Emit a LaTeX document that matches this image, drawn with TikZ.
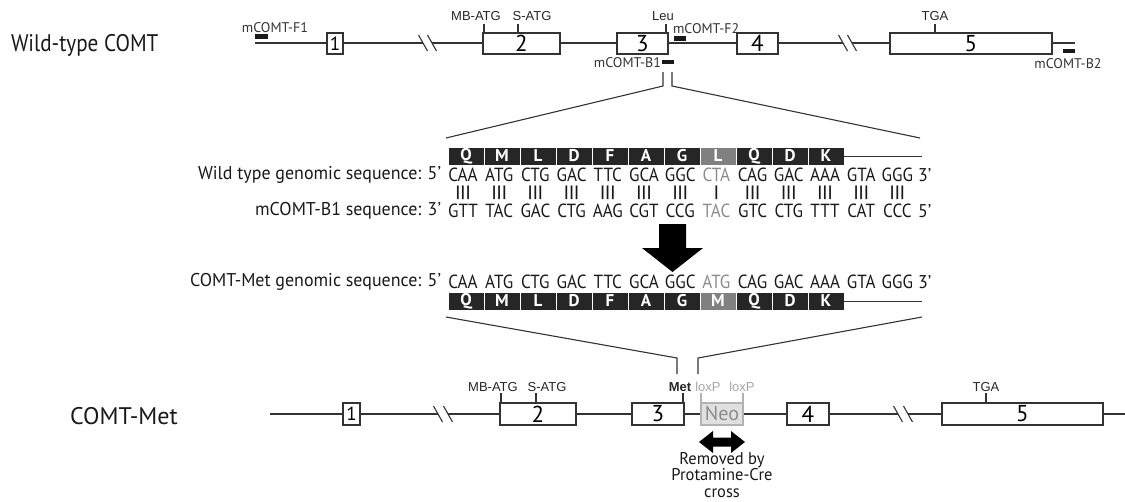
\documentclass[tikz,border=0pt]{standalone}
\usepackage{fontspec}
\setmainfont{PT Sans}
\newfontfamily\seqf[FakeStretch=0.97]{PT Sans}
\newfontfamily\codf[FakeStretch=0.9]{PT Sans}
\newfontfamily\titf[FakeStretch=0.88]{PT Sans}
\newfontfamily\labf{Liberation Sans}
\begin{document}
\begin{tikzpicture}[x=1pt,y=-1pt,
  every node/.style={inner sep=0pt, outer sep=0pt},
  gl/.style={draw=black!80, line width=1.2pt},
  exon/.style={draw=black!80, line width=1.2pt, fill=white, font=\fontsize{23}{23}\selectfont},
  primer/.style={fill=black!90, minimum width=12pt, minimum height=4.5pt},
  lab/.style={font=\labf\fontsize{13}{13}\selectfont, text=black!85},
  plab/.style={font=\fontsize{14}{14}\selectfont, text=black!80},
  tick/.style={draw=black!80, line width=1.2pt},
  seq/.style={font=\seqf\fontsize{18.5}{18.5}\selectfont, text=black!90},
  cod/.style={font=\codf\fontsize{19}{19}\selectfont, text=black!90},
  pipe/.style={font=\seqf\bfseries\fontsize{16.5}{16.5}\selectfont, text=black!90},
  aa/.style={fill=black!85, draw=white, line width=0.7pt, minimum width=36pt, minimum height=18pt, text=white, font=\bfseries\fontsize{17}{17}\selectfont},
  aag/.style={aa, fill=black!50},
  title/.style={font=\fontsize{24}{24}\selectfont, text=black!90, anchor=west},
  exp/.style={draw=black!80, line width=1.1pt},
  brk/.style={draw=black!80, line width=1.1pt}
]
\useasboundingbox (0,0) rectangle (1125,501);

% ---------------- Wild-type gene ----------------
\node[title, font=\titf\fontsize{24}{24}\selectfont] (wt) at (11,45) {Wild-type COMT};
\coordinate (t0) at (255,43);
\coordinate (tb1a) at (423,43);
\coordinate (tb1b) at (432,43);
\coordinate (tb2a) at (843,43);
\coordinate (tb2b) at (852,43);
\coordinate (tEnd) at (1075,43);
\draw[gl] (t0) -- (tb1a);
\draw[gl] (tb1b) -- (tb2a);
\draw[gl] (tb2b) -- (tEnd);
\foreach \c in {tb1a,tb1b,tb2a,tb2b}
  \draw[brk] ([shift={(-4.5,-8)}]\c) -- ([shift={(4.5,8)}]\c);

\node[exon, minimum width=16pt, minimum height=21pt, font=\fontsize{19}{19}\selectfont] (e1) at (335,43.5) {1};
\node[exon, minimum width=77pt, minimum height=21pt] (e2) at (521.5,43.5) {2};
\node[exon, minimum width=51pt, minimum height=21pt] (e3) at (642.5,43.5) {3};
\node[exon, minimum width=41pt, minimum height=21pt] (e4) at (757.5,43.5) {4};
\node[exon, minimum width=162pt, minimum height=21pt] (e5) at (971,43.5) {5};

% ticks and labels
\coordinate (mbT) at (484,33);
\coordinate (sT) at (518,33);
\coordinate (leuT) at (666,33);
\coordinate (tgaT) at (935,33);
\foreach \c in {mbT,sT,leuT,tgaT} \draw[tick] (\c) -- ++(0,-9);
\node[lab] (mbL) at (476,16) {MB-ATG};
\node[lab] (sL) at (532,16) {S-ATG};
\node[lab] (leuL) at (663,16) {Leu};
\node[lab] (tgaL) at (935,16) {TGA};

% primers
\node[primer, minimum width=13pt] (F1) at (261.5,36.5) {};
\node[plab] (F1L) at (275,28) {mCOMT-F1};
\node[primer, minimum height=5pt] (F2) at (679.5,38.5) {};
\node[plab, anchor=west] (F2L) at (673,29) {mCOMT-F2};
\node[primer] (B1) at (667.5,62) {};
\node[plab, anchor=east] (B1L) at (661,63) {mCOMT-B1};
\node[primer] (B2) at (1069,51) {};
\node[plab] (B2L) at (1068,64) {mCOMT-B2};

% expansion lines (top)
\coordinate (lt1) at (663,72);
\coordinate (lt2) at (663,86);
\coordinate (lt3) at (446,138);
\coordinate (rt1) at (672,72);
\coordinate (rt2) at (672,86);
\coordinate (rt3) at (920,138);
\draw[exp] (lt1) -- (lt2) -- (lt3);
\draw[exp] (rt1) -- (rt2) -- (rt3);

% ---------------- Sequences ----------------
\foreach \a [count=\i] in {Q,M,L,D,F,A,G,L,Q,D,K}{
  \ifnum\i=8
    \node[aag] (pa\i) at ({448+36*(\i-0.5)},156) {\a};
  \else
    \node[aa] (pa\i) at ({448+36*(\i-0.5)},156) {\a};
  \fi
}
\coordinate (pa12) at (922,156);
\draw[gl, line width=1pt] (pa11.east) -- (pa12);

\node[seq, anchor=east] (r1L) at (441,175) {Wild type genomic sequence: 5\textquoteright};
\foreach \s [count=\i] in {CAA,ATG,CTG,GAC,TTC,GCA,GGC,CTA,CAG,GAC,AAA,GTA,GGG}{
  \ifnum\i=8
    \node[cod, text=black!45] (c\i) at ({463+36.2*(\i-1)},175) {\s};
  \else
    \node[cod] (c\i) at ({463+36.2*(\i-1)},175) {\s};
  \fi
}
\node[seq, anchor=west] (r1R) at (918,175) {3\textquoteright};

\foreach \i in {1,...,13}{
  \ifnum\i=8
    \node[pipe] (bar\i) at ({463+36.2*(\i-1)},193) {|};
  \else
    \node[pipe] (bar\i) at ({463+36.2*(\i-1)},193) {|\kern1.5pt|\kern1.5pt|};
  \fi
}

\node[seq, anchor=east] (r2L) at (441,211) {mCOMT-B1 sequence: 3\textquoteright};
\foreach \s [count=\i] in {GTT,TAC,GAC,CTG,AAG,CGT,CCG,TAC,GTC,CTG,TTT,CAT,CCC}{
  \ifnum\i=8
    \node[cod, text=black!45] (d\i) at ({463+36.2*(\i-1)},211) {\s};
  \else
    \node[cod] (d\i) at ({463+36.2*(\i-1)},211) {\s};
  \fi
}
\node[seq, anchor=west] (r2R) at (918,211) {5\textquoteright};

% big arrow
\fill[black] (659,224) -- (686,224) -- (686,248) -- (703,248) -- (672.5,272) -- (642,248) -- (659,248) -- cycle;

\node[seq, anchor=east] (r3L) at (441,282) {COMT-Met genomic sequence: 5\textquoteright};
\foreach \s [count=\i] in {CAA,ATG,CTG,GAC,TTC,GCA,GGC,ATG,CAG,GAC,AAA,GTA,GGG}{
  \ifnum\i=8
    \node[cod, text=black!45] (m\i) at ({463+36.2*(\i-1)},282) {\s};
  \else
    \node[cod] (m\i) at ({463+36.2*(\i-1)},282) {\s};
  \fi
}
\node[seq, anchor=west] (r3R) at (918,282) {3\textquoteright};

\foreach \a [count=\i] in {Q,M,L,D,F,A,G,M,Q,D,K}{
  \ifnum\i=8
    \node[aag] (pb\i) at ({448+36*(\i-0.5)},301) {\a};
  \else
    \node[aa] (pb\i) at ({448+36*(\i-0.5)},301) {\a};
  \fi
}
\coordinate (pb12) at (922,301);
\draw[gl, line width=1pt] (pb11.east) -- (pb12);

% expansion lines (bottom)
\coordinate (lb1) at (446,317);
\coordinate (lb2) at (677,358);
\coordinate (lb3) at (677,374);
\coordinate (rb1) at (922,317);
\coordinate (rb2) at (698,358);
\coordinate (rb3) at (698,374);
\draw[exp] (lb1) -- (lb2) -- (lb3);
\draw[exp] (rb1) -- (rb2) -- (rb3);

% ---------------- COMT-Met gene ----------------
\node[title] (met) at (70,416) {COMT-Met};
\coordinate (b0) at (270,414);
\coordinate (bb1a) at (438,414);
\coordinate (bb1b) at (448,414);
\coordinate (bb2a) at (898,414);
\coordinate (bb2b) at (908,414);
\coordinate (bEnd) at (1125,414);
\draw[gl] (b0) -- (bb1a);
\draw[gl] (bb1b) -- (bb2a);
\draw[gl] (bb2b) -- (bEnd);
\foreach \c in {bb1a,bb1b,bb2a,bb2b}
  \draw[brk] ([shift={(-4.5,-8)}]\c) -- ([shift={(4.5,8)}]\c);

\node[exon, minimum width=17pt, minimum height=22pt, font=\fontsize{19}{19}\selectfont] (f1) at (351.5,414) {1};
\node[exon, minimum width=76pt, minimum height=22pt] (f2) at (538,414) {2};
\node[exon, minimum width=52pt, minimum height=22pt] (f3) at (658,414) {3};
\node[draw=black!30, fill=black!12, line width=1.2pt, minimum width=42pt, minimum height=22pt, text=black!45, font=\fontsize{20}{20}\selectfont] (neo) at (722,414) {Neo};
\node[exon, minimum width=42pt, minimum height=22pt] (f4) at (808,414) {4};
\node[exon, minimum width=161pt, minimum height=22pt] (f5) at (1022.5,414) {5};

\coordinate (mbB) at (501,403);
\coordinate (sB) at (536,403);
\coordinate (metB) at (683,403);
\coordinate (tgaB) at (986,403);
\foreach \c in {mbB,sB,metB,tgaB} \draw[tick] (\c) -- ++(0,-10);
\draw[draw=black!30, line width=1.2pt] (neo.north west) -- ++(0,-10);
\draw[draw=black!30, line width=1.2pt] (neo.north east) -- ++(0,-10);
\node[lab] (mbBL) at (493,387) {MB-ATG};
\node[lab] (sBL) at (547,387) {S-ATG};
\node[lab, font=\labf\bfseries\fontsize{13}{13}\selectfont] (metL) at (680,387) {Met};
\node[lab, text=black!35] (lox1) at (708,387) {loxP};
\node[lab, text=black!35] (lox2) at (742,387) {loxP};
\node[lab] (tgaBL) at (986,387) {TGA};

% double arrow
\fill[black] (699,442) -- (713,431) -- (713,437.5) -- (731,437.5) -- (731,431) -- (745,442) -- (731,453) -- (731,446.5) -- (713,446.5) -- (713,453) -- cycle;
\node[seq, align=center, font=\seqf\fontsize{17}{16.5}\selectfont] (rem) at (722,475) {Removed by\\Protamine-Cre\\cross};
\end{tikzpicture}
\end{document}
